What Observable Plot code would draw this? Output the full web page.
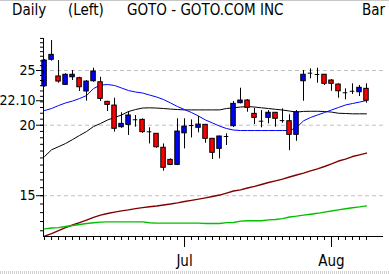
<!DOCTYPE html>
<html><head><meta charset="utf-8">
<script src="https://cdn.jsdelivr.net/npm/d3@7"></script>
<script src="https://cdn.jsdelivr.net/npm/@observablehq/plot@0.6"></script>
<style>
html,body{margin:0;padding:0;background:#fff;overflow:hidden;}
#wrap{position:relative;width:389px;height:274px;font-family:"DejaVu Sans Condensed","DejaVu Sans",sans-serif;}
#title{position:relative;height:36px;border-top:1px solid #c8c8c8;box-sizing:border-box;}
#title span{position:absolute;top:0px;font-size:15px;line-height:18px;color:#000;white-space:nowrap;}
#band{position:absolute;left:0;top:271px;width:389px;height:3px;background:repeating-linear-gradient(90deg,#d0d0d0 0 1px,#fff 1px 2px);}
</style></head><body>
<div id="wrap"><div id="title"></div><div id="chart"></div><div id="band"></div></div>
<script>
// ---- data ----
const titleParts = ["Daily", "(Left)", "GOTO - GOTO.COM INC", "Bar"];
const titleLeft = [12, 68, 127, 362];

const opens  = [23.45,26.12,24.40,23.58,24.32,24.23,22.95,23.93,23.83,22.00,
                21.67,19.84,20.03,20.45,20.44,19.47,19.31,18.24,17.36,17.01,
                19.35,19.97,19.79,20.03,18.92,18.16,19.10,19.92,21.88,22.12,
                20.95,20.33,20.61,21.04,20.38,20.33,19.23,23.93,24.73,24.60,
                24.57,24.00,23.61,22.83,22.97,22.88,23.20];
const highs  = [26.15,28.26,26.04,24.67,25.00,24.32,24.00,25.24,24.32,22.05,
                22.33,21.04,21.15,20.81,20.53,19.79,19.33,18.53,17.43,20.53,
                20.53,20.44,20.72,20.06,18.95,19.12,19.31,22.03,23.26,22.21,
                21.43,21.23,21.23,21.06,21.38,20.87,21.23,25.00,25.17,25.24,
                24.60,24.10,23.68,23.20,23.68,23.52,23.68];
const lows   = [23.35,25.97,23.74,23.52,24.00,22.95,22.06,23.83,22.03,21.15,
                19.44,19.75,19.18,19.84,19.35,18.53,18.21,16.58,16.96,16.96,
                18.16,18.99,19.39,18.58,17.39,17.43,18.41,19.81,21.82,21.09,
                20.05,19.79,20.11,19.84,20.16,18.03,18.73,22.06,24.17,23.74,
                23.52,22.97,22.33,22.18,22.67,22.48,21.88];
const closes = [26.04,26.65,23.90,24.57,24.57,23.35,23.90,24.90,22.27,21.73,
                19.71,20.11,20.81,20.45,19.44,19.47,18.28,16.81,17.01,19.49,
                19.89,19.97,20.05,18.92,17.87,19.10,19.10,21.82,22.12,21.47,
                20.61,20.33,21.04,20.53,20.38,19.23,21.09,24.57,24.73,24.60,
                23.68,23.68,22.97,22.83,22.97,23.30,22.10];

const maBlue  = [21.23,21.41,21.67,21.90,22.07,22.30,22.57,23.23,23.56,23.61,
                 23.52,23.28,23.04,22.90,22.81,22.62,22.44,22.21,21.90,21.58,
                 21.32,21.06,20.76,20.43,20.18,19.93,19.73,19.61,19.57,19.57,
                 19.57,19.57,19.57,19.57,19.57,19.57,19.80,20.36,20.64,20.85,
                 21.06,21.28,21.50,21.72,21.85,21.98,22.12];
const maBlack = [17.60,18.09,18.32,18.56,18.86,19.18,19.49,19.89,20.14,20.43,
                 20.64,20.85,21.15,21.32,21.45,21.47,21.45,21.41,21.36,21.32,
                 21.29,21.29,21.29,21.29,21.29,21.29,21.41,21.47,21.54,21.58,
                 21.54,21.47,21.41,21.34,21.28,21.19,21.10,21.16,21.17,21.17,
                 21.15,21.10,21.00,20.98,20.95,20.95,20.95];
const maRed   = [12.72,12.85,13.01,13.17,13.31,13.44,13.58,13.73,13.86,13.95,
                 14.03,14.10,14.16,14.23,14.29,14.34,14.38,14.44,14.50,14.57,
                 14.65,14.72,14.79,14.87,14.95,15.04,15.16,15.29,15.36,15.48,
                 15.58,15.70,15.83,15.94,16.05,16.19,16.32,16.45,16.60,16.74,
                 16.90,17.08,17.28,17.42,17.60,17.72,17.85];
const maGreen = [13.10,13.15,13.17,13.23,13.28,13.34,13.39,13.43,13.47,13.48,
                 13.48,13.48,13.48,13.48,13.48,13.43,13.41,13.41,13.41,13.41,
                 13.41,13.41,13.41,13.39,13.39,13.39,13.44,13.45,13.52,13.54,
                 13.54,13.54,13.59,13.61,13.66,13.75,13.80,13.86,13.91,13.96,
                 14.03,14.09,14.16,14.22,14.28,14.33,14.39];

const yTickValues = [25, 22.10, 20, 15];
const yTickLabels = ["25", "22.10", "20", "15"];
const gridValues = [25, 20, 15];
const monthTicks = [20, 41];
const monthLabels = ["Jul", "Aug"];

// ---- title ----
const t = document.getElementById("title");
titleParts.forEach((s, i) => {
  const sp = document.createElement("span");
  sp.textContent = s; sp.style.left = titleLeft[i] + "px";
  t.appendChild(sp);
});

// ---- chart ----
const candles = closes.map((c, i) => ({i, open: opens[i], high: highs[i], low: lows[i], close: c}));
const N = candles.length;
const xLeft = -0.15, xRight = 48.43;
const yBottom = 12.70, yTop = 28.49;
const minorY = d3.range(13, 28.6, 0.5);
const yLabelMap = new Map(yTickValues.map((v, i) => [v, yTickLabels[i]]));
const monthMap = new Map(monthTicks.map((v, i) => [v, monthLabels[i]]));
const hw = 0.32;
const idx = (d, i) => i;

const chart = Plot.plot({
  width: 389, height: 238,
  marginTop: 2, marginBottom: 38, marginLeft: 43, marginRight: 6,
  x: {type: "linear", domain: [xLeft, xRight], axis: null, label: null},
  y: {type: "log", domain: [yBottom, yTop], axis: null, label: null},
  color: {type: "identity"},
  style: {fontFamily: "'DejaVu Sans Condensed','DejaVu Sans',sans-serif", fontSize: "14px", color: "black", background: "white"},
  marks: [
    Plot.ruleY(gridValues, {stroke: "#c0c0c0", strokeDasharray: "4,3"}),
    Plot.line(maRed,   {x: idx, y: d => d, stroke: "#800000", strokeWidth: 1.4}),
    Plot.line(maGreen, {x: idx, y: d => d, stroke: "#00c000", strokeWidth: 1.4}),
    Plot.line(maBlack, {x: idx, y: d => d, stroke: "#000000", strokeWidth: 1}),
    Plot.line(maBlue,  {x: idx, y: d => d, stroke: "#0000ff", strokeWidth: 1}),
    Plot.ruleX(candles, {x: "i", y1: "low", y2: "high", stroke: "black"}),
    Plot.rect(candles.filter(d => d.open !== d.close), {
      x1: d => d.i - hw, x2: d => d.i + hw, y1: "open", y2: "close",
      fill: d => d.close > d.open ? "#0000ff" : "#ff0000", stroke: "black"
    }),
    Plot.ruleY(candles.filter(d => d.open === d.close), {
      x1: d => d.i - hw, x2: d => d.i + hw, y: "close", stroke: "black"
    }),
    Plot.ruleX([xLeft], {stroke: "black"}),
    Plot.ruleY([yBottom], {stroke: "black"}),
    Plot.axisY(minorY, {tickSize: 3, tickFormat: () => "", label: null}),
    Plot.axisY(yTickValues, {tickSize: 7, tickPadding: 1, tickFormat: d => yLabelMap.get(d), fontSize: 14, label: null}),
    Plot.axisX(d3.range(N), {tickSize: 4, tickFormat: () => "", label: null}),
    Plot.axisX(monthTicks, {tickSize: 11, tickPadding: 8, tickFormat: d => monthMap.get(d), fontSize: 15, label: null})
  ]
});
document.getElementById("chart").appendChild(chart);
</script></body></html>
